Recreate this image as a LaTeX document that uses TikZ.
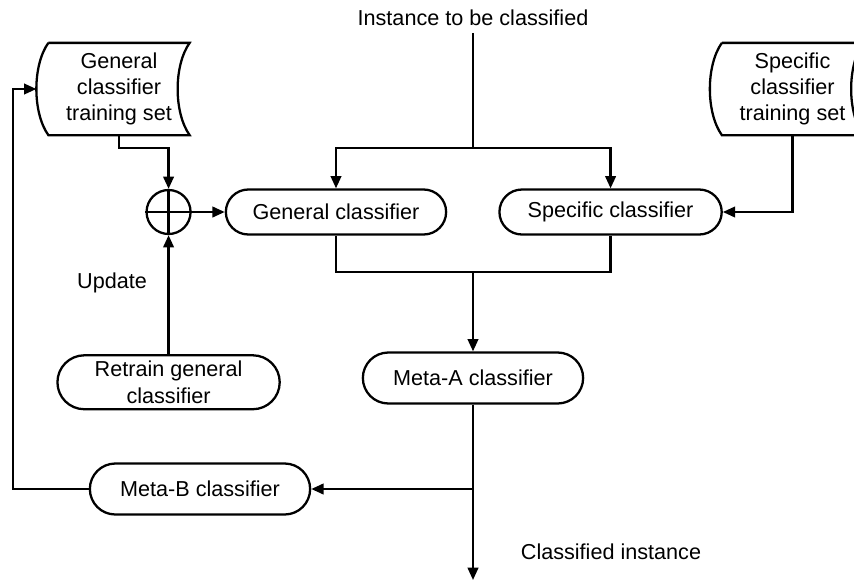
\documentclass[tikz,border=0pt]{standalone}
\usepackage{fontspec}
\setmainfont{Liberation Sans}
\usetikzlibrary{positioning,arrows.meta,shapes.misc,calc}
\tikzset{
  proc/.style={draw, rounded rectangle, minimum height=0.9cm, minimum width=4.64cm, align=center},
  dataset/.style={minimum width=2.78cm, minimum height=1.8cm, align=center, inner sep=0pt},
  flow/.style={-{Triangle[length=7pt,width=6pt]}}
}
\newcommand{\datashape}[1]{%
  \draw (#1.north west) -- (#1.north east)
    .. controls +(-0.32,-0.45) and +(-0.32,0.45) .. (#1.south east)
    -- (#1.south west)
    .. controls +(-0.32,0.45) and +(-0.32,-0.45) .. (#1.north west);}

\begin{document}
\begin{tikzpicture}[line width=1.3pt, font=\fontsize{12.3}{15}\selectfont, node distance=1cm]
    \clip (0,0) rectangle (17.08,-11.62);
    \node (inst) at (9.46,-0.36) {Instance to be classified};

    \node[proc] (gencls) at (6.72,-4.24) {General classifier};
    \node[proc, minimum width=4.68cm, right=1.02cm of gencls] (spccls) {Specific classifier};
    \node[draw, circle, minimum size=0.88cm, inner sep=0pt, left=0.66cm of gencls] (circ) {};
    \draw (circ.north) -- (circ.south) (circ.west) -- (circ.east);
    \node[proc, minimum height=1.02cm] (metaa) at (9.46,-7.56) {Meta-A classifier};
    \node[proc, minimum height=1.04cm, minimum width=4.68cm, below=2.38cm of circ] (retrain) {Retrain general\\classifier};
    \node[proc, minimum height=1.02cm] (metab) at (4.0,-9.78) {Meta-B classifier};

    \node[dataset] (genset) at (2.38,-1.78) {General\\classifier\\training set};
    \node[dataset] (spcset) at (15.85,-1.78) {Specific\\classifier\\training set};
    \datashape{genset}
    \datashape{spcset}

    \node (upd) at (2.24,-5.66) {Update};
    \node (out) at (12.22,-11.04) {Classified instance};

    \coordinate (split) at (inst.south |- 0,-2.96);
    \coordinate (join) at (inst.south |- 0,-5.44);
    \coordinate (branch) at (inst.south |- 0,-9.78);
    \coordinate (outend) at (inst.south |- 0,-11.6);
    \coordinate (loop) at (0.26,-9.78);
    \coordinate (gensetin) at ($(genset.west)+(-0.24,0)$);

    \draw (inst.south) -- (split);
    \draw[flow] (split) -| (gencls.north);
    \draw[flow] (split) -| (spccls.north);
    \draw[flow] (genset.south) -- ++(0,-0.26) -| (circ.north);
    \draw[flow] (circ.east) -- (gencls.west);
    \draw[flow] (spcset.south) |- (spccls.east);
    \draw[flow] (retrain.north) -- (circ.south);
    \draw (gencls.south) |- (join) -| (spccls.south);
    \draw[flow] (join) -- (metaa.north);
    \draw[flow] (metaa.south) -- (outend);
    \draw[flow] (branch) -- (metab.east);
    \draw[flow] (metab.west) -- (loop) |- (gensetin);
\end{tikzpicture}
\end{document}
